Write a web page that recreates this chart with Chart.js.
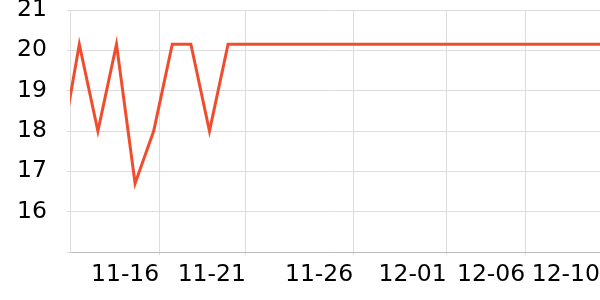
<!DOCTYPE html>
<html>
<head>
<meta charset="utf-8">
<script src="https://cdn.jsdelivr.net/npm/chart.js@4.4.0/dist/chart.umd.min.js"></script>
<style>
  html, body { margin: 0; padding: 0; background: #fff; }
  #wrap { width: 600px; height: 300px; }
</style>
</head>
<body>
<div id="wrap"><canvas id="chart"></canvas></div>
<script>
// readings, one per sample (sample index on the x axis)
const values = [17.5, 20.15, 18.0, 20.15, 16.7, 18.0, 20.15, 20.15, 18.0, 20.15,
    20.15, 20.15, 20.15, 20.15, 20.15, 20.15, 20.15, 20.15, 20.15, 20.15,
    20.15, 20.15, 20.15, 20.15, 20.15, 20.15, 20.15, 20.15, 20.15, 20.15];

// date ticks sit between samples (samples are not exactly daily)
const xTickPos = [5.30, 9.96, 15.73, 20.76, 24.98, 29];
const xTickLabels = ['11-16', '11-21', '11-26', '12-01', '12-06', '12-10'];

const yTicks = [15, 16, 17, 18, 19, 20, 21];

const points = values.map((v, i) => ({ x: i, y: v }));
const font = { family: 'DejaVu Sans', size: 23.5 };

new Chart(document.getElementById('chart').getContext('2d'), {
    type: 'line',
    data: {
        datasets: [{
            data: points,
            borderColor: '#ef4d2e',
            borderWidth: 3,
            pointRadius: 0,
            tension: 0,
            fill: false
        }]
    },
    options: {
        responsive: true,
        maintainAspectRatio: false,
        animation: false,
        layout: { padding: { left: 0, right: 0, top: 10, bottom: 0 } },
        plugins: {
            legend: { display: false },
            tooltip: { enabled: false }
        },
        scales: {
            x: {
                type: 'linear',
                min: 0.5,
                max: 29,
                afterBuildTicks: s => { s.ticks = xTickPos.map(v => ({ value: v })); },
                afterFit: s => {
                    s.height = 48;
                    s.paddingLeft = 0;
                    s.paddingRight = 0;
                },
                ticks: {
                    autoSkip: false,
                    maxRotation: 0,
                    align: 'end',
                    padding: 6,
                    color: '#000',
                    font: font,
                    callback: (v, i) => xTickLabels[i]
                },
                grid: { color: '#dddddd', tickLength: 3 },
                border: { color: '#bbbbbb' }
            },
            y: {
                min: 15,
                max: 21,
                afterBuildTicks: s => { s.ticks = yTicks.map(v => ({ value: v })); },
                afterFit: s => {
                    s.width = 70;
                    s.paddingTop = 0;
                    s.paddingBottom = 0;
                },
                ticks: {
                    padding: 20,
                    color: '#000',
                    font: font,
                    callback: v => v === 15 ? '' : v
                },
                grid: { color: '#dddddd', tickLength: 3 },
                border: { color: '#dddddd' }
            }
        }
    }
});
</script>
</body>
</html>
